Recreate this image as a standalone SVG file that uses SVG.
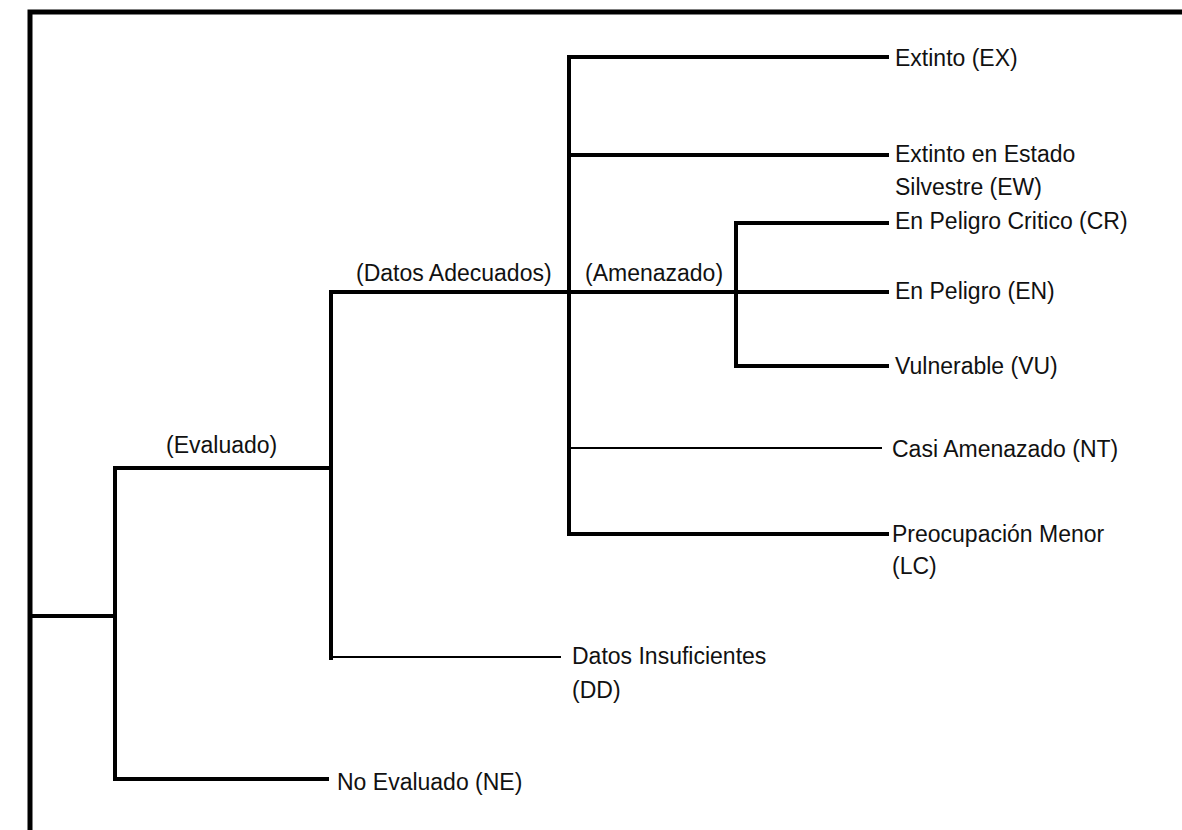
<svg xmlns="http://www.w3.org/2000/svg" width="1182" height="830" viewBox="0 0 1182 830">
<style>
.t{font-family:"Liberation Sans",Arial,sans-serif;font-size:23px;fill:#111}
.thick{stroke:#000;stroke-width:4;fill:none;stroke-linecap:square}
.thin{stroke:#000;stroke-width:2;fill:none}
.frame{stroke:#000;stroke-width:5;fill:none}
</style>
<rect x="0" y="0" width="1182" height="830" fill="#fff"/>
<path class="frame" d="M30,830 V12 H1182"/>
<g id="connectors">
<path class="thick" d="M30,616 H115"/>
<path class="thick" d="M115,468 V779"/>
<path class="thick" d="M115,468 H330"/>
<path class="thick" d="M115,779 H327"/>
<path class="thick" d="M331,292 V658"/>
<path class="thin" d="M331,657 H561"/>
<path class="thick" d="M331,292 H887"/>
<path class="thick" d="M569,57 V534"/>
<path class="thick" d="M569,57 H887"/>
<path class="thick" d="M569,155 H887"/>
<path class="thin" d="M569,448 H882"/>
<path class="thick" d="M569,534 H887"/>
<path class="thick" d="M736,223 V366"/>
<path class="thick" d="M736,223 H887"/>
<path class="thick" d="M736,366 H887"/>
</g>
<g id="label-evaluado"><text class="t" x="166" y="453">(Evaluado)</text></g>
<g id="label-datos-adecuados"><text class="t" x="356" y="281">(Datos Adecuados)</text></g>
<g id="label-amenazado"><text class="t" x="585" y="281">(Amenazado)</text></g>
<g id="node-ex"><text class="t" x="895" y="66">Extinto (EX)</text></g>
<g id="node-ew"><text class="t" x="895" y="162">Extinto en Estado</text><text class="t" x="895" y="195">Silvestre (EW)</text></g>
<g id="node-cr"><text class="t" x="895" y="229">En Peligro Critico (CR)</text></g>
<g id="node-en"><text class="t" x="895" y="299">En Peligro (EN)</text></g>
<g id="node-vu"><text class="t" x="895" y="374">Vulnerable (VU)</text></g>
<g id="node-nt"><text class="t" x="892" y="457">Casi Amenazado (NT)</text></g>
<g id="node-lc"><text class="t" x="892" y="542">Preocupación Menor</text><text class="t" x="892" y="574">(LC)</text></g>
<g id="node-dd"><text class="t" x="572" y="664">Datos Insuficientes</text><text class="t" x="572" y="698">(DD)</text></g>
<g id="node-ne"><text class="t" x="337" y="790">No Evaluado (NE)</text></g>
</svg>
